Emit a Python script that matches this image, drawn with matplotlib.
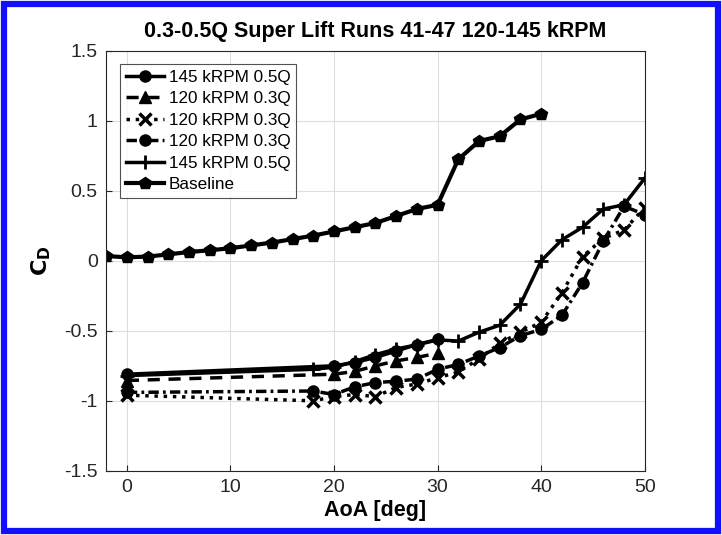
import matplotlib.pyplot as plt
from matplotlib.patches import Rectangle

plt.rcParams['font.family'] = ['Liberation Sans', 'DejaVu Sans']

# Baseline
aoa_base = [-2, 0, 2, 4, 6, 8, 10, 12, 14, 16, 18, 20, 22, 24, 26, 28, 30, 32, 34, 36, 38, 40]
cd_base = [0.034, 0.025, 0.03, 0.046, 0.063, 0.075, 0.09, 0.11, 0.13, 0.155, 0.18, 0.21,
           0.24, 0.27, 0.32, 0.37, 0.40, 0.725, 0.855, 0.89, 1.01, 1.05]

# 145 kRPM 0.5Q (circles, solid)
aoa_1 = [0, 20, 22, 24, 26, 28, 30]
cd_1 = [-0.81, -0.75, -0.727, -0.69, -0.645, -0.598, -0.562]

# 120 kRPM 0.3Q (triangles, dashed)
aoa_2 = [0, 20, 22, 24, 26, 28, 30]
cd_2 = [-0.855, -0.81, -0.79, -0.75, -0.715, -0.69, -0.66]

# 120 kRPM 0.3Q (x, dotted)
aoa_3 = [0, 18, 20, 22, 24, 26, 28, 30, 32, 34, 36, 38, 40, 42, 44, 46, 48, 50]
cd_3 = [-0.96, -1.0, -0.97, -0.955, -0.97, -0.905, -0.88, -0.835, -0.795, -0.70, -0.59,
        -0.51, -0.44, -0.23, 0.03, 0.16, 0.22, 0.38]

# 120 kRPM 0.3Q (circles, dash-dot)
aoa_4 = [0, 18, 20, 22, 24, 26, 28, 30, 32, 34, 36, 38, 40, 42, 44, 46, 48, 50]
cd_4 = [-0.94, -0.93, -0.955, -0.90, -0.87, -0.86, -0.845, -0.775, -0.74, -0.68, -0.62,
        -0.535, -0.49, -0.39, -0.156, 0.14, 0.39, 0.33]

# 145 kRPM 0.5Q (plus, solid)
aoa_5 = [0, 18, 20, 22, 24, 26, 28, 30, 32, 34, 36, 38, 40, 42, 44, 46, 48, 50]
cd_5 = [-0.82, -0.775, -0.76, -0.72, -0.67, -0.63, -0.60, -0.565, -0.573, -0.51, -0.46,
        -0.31, 0.0, 0.15, 0.24, 0.37, 0.40, 0.59]

fig = plt.figure(figsize=(7.22, 5.35), dpi=100)
ax = fig.add_axes([0.147, 0.12, 0.746, 0.785])

lw = 2.5
ms = 8
ax.plot(aoa_1, cd_1, 'k-', marker='o', lw=lw, ms=ms, label='145 kRPM 0.5Q')
ax.plot(aoa_2, cd_2, 'k', ls=(0, (3.5, 2.5)), marker='^', lw=lw, ms=ms, label='120 kRPM 0.3Q')
ax.plot(aoa_3, cd_3, 'k:', marker='x', lw=lw, ms=ms, mew=2.5, label='120 kRPM 0.3Q')
ax.plot(aoa_4, cd_4, 'k', ls=(0, (3, 1.2, 0.8, 1.2)), marker='o', lw=lw, ms=ms, label='120 kRPM 0.3Q')
ax.plot(aoa_5, cd_5, 'k-', marker='+', lw=lw, ms=10, mew=2, label='145 kRPM 0.5Q')
ax.plot(aoa_base, cd_base, 'k-', marker='p', lw=3, ms=9, label='Baseline')

ax.set_xlim(-2, 50)
ax.set_ylim(-1.5, 1.5)
ax.set_xticks([0, 10, 20, 30, 40, 50])
ax.set_yticks([-1.5, -1, -0.5, 0, 0.5, 1, 1.5])
ax.set_yticklabels(['-1.5', '-1', '-0.5', '0', '0.5', '1', '1.5'])
ax.tick_params(direction='in', labelsize=14, colors='#262626', length=4, pad=6)
ax.grid(True, color='#dddddd', lw=0.8)
for s in ax.spines.values():
    s.set_color('#262626')
    s.set_linewidth(0.8)

ax.set_title('0.3-0.5Q Super Lift Runs 41-47 120-145 kRPM', fontsize=15.5, fontweight='bold', pad=10)
ax.set_xlabel('AoA [deg]', fontsize=15.5, fontweight='bold', labelpad=3)
ax.set_ylabel(r'$\mathbf{C_D}$', fontsize=16, labelpad=8)

leg = ax.legend(loc='upper left', fontsize=12.3, frameon=True, fancybox=False,
                edgecolor='#262626', handlelength=2.2, borderpad=0.35, labelspacing=0.38,
                handletextpad=0.3, bbox_to_anchor=(0.01, 0.99))
leg.get_frame().set_linewidth(0.8)

fig.patches.append(Rectangle((0.006, 0.008), 0.988, 0.984, transform=fig.transFigure,
                             fill=False, edgecolor='#1010ff', lw=4.5))

plt.savefig('out.png', dpi=100)
